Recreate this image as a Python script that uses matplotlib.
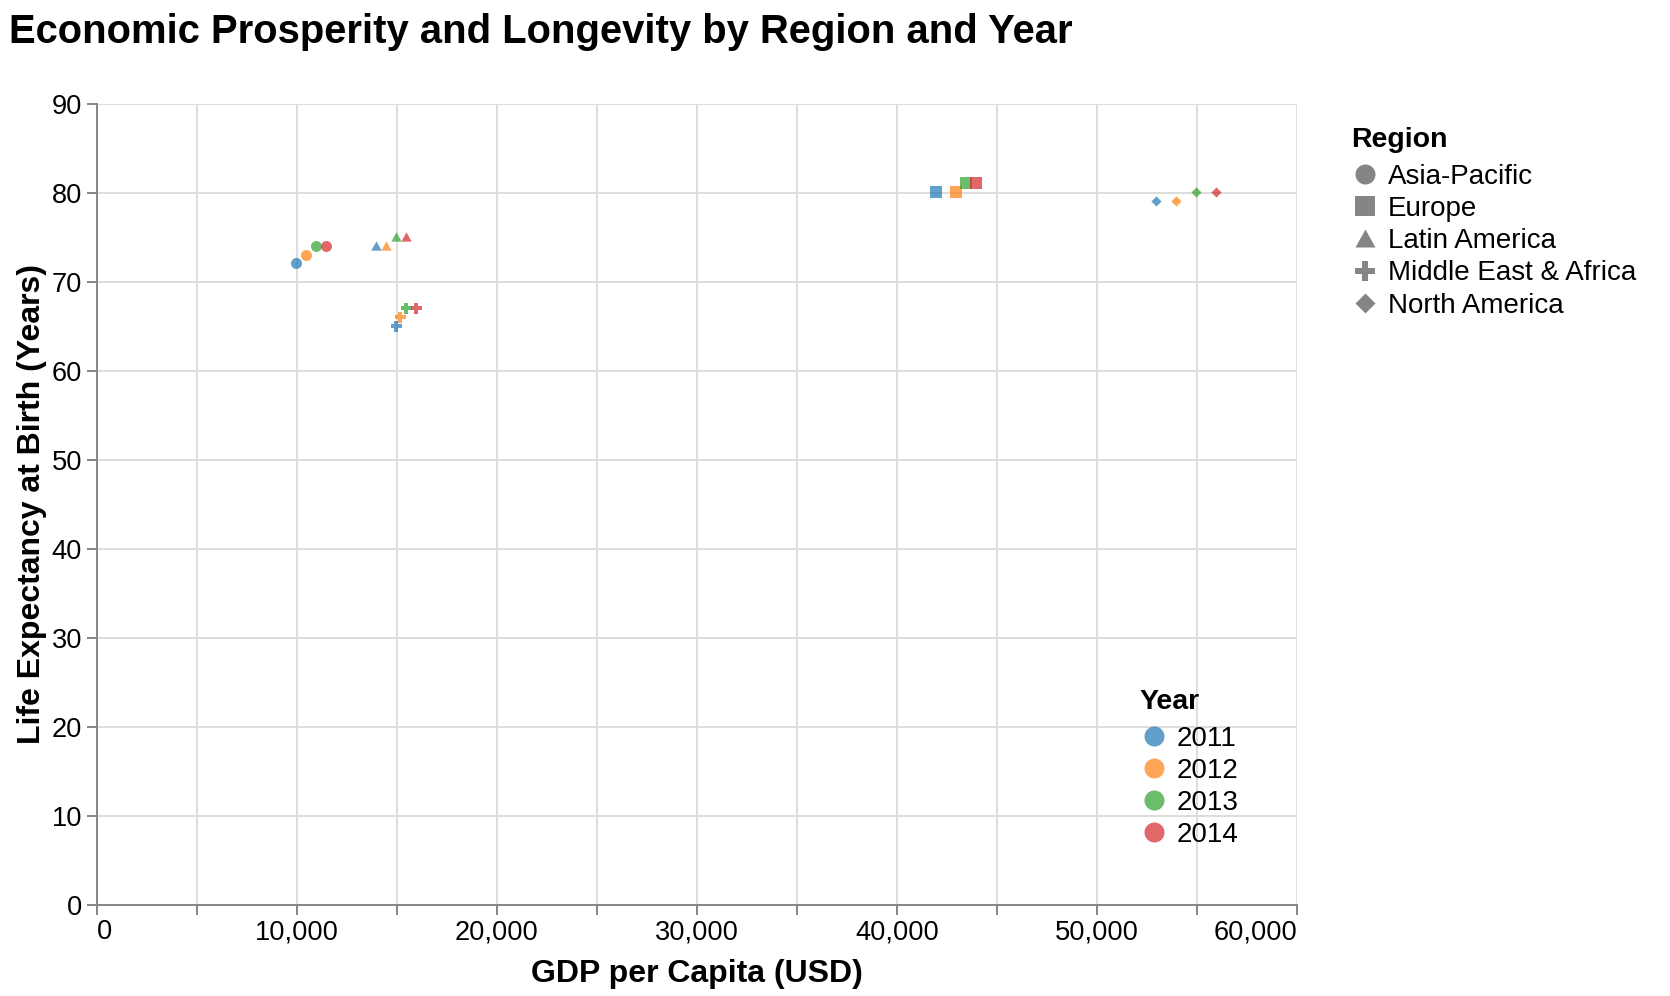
import matplotlib
matplotlib.use("Agg")
import matplotlib.pyplot as plt
from matplotlib.lines import Line2D
from matplotlib.path import Path
from matplotlib.transforms import offset_copy

plt.rcParams['font.family'] = ['Liberation Sans', 'DejaVu Sans']

W, H = 1670, 996
years = [2011, 2012, 2013, 2014]
regions = ["Asia-Pacific", "Europe", "Latin America", "Middle East & Africa", "North America"]
year_colors = ["#1f77b4", "#ff7f0e", "#2ca02c", "#d62728"]
gdp_asia = [10000, 10500, 11000, 11500]
life_asia = [72, 73, 74, 74]
gdp_europe = [42000, 43000, 43500, 44000]
life_europe = [80, 80, 81, 81]
gdp_latin = [14000, 14500, 15000, 15500]
life_latin = [74, 74, 75, 75]
gdp_mea = [15000, 15200, 15500, 16000]
life_mea = [65, 66, 67, 67]
gdp_north = [53000, 54000, 55000, 56000]
life_north = [79, 79, 80, 80]
gdp_all = [gdp_asia, gdp_europe, gdp_latin, gdp_mea, gdp_north]
life_all = [life_asia, life_europe, life_latin, life_mea, life_north]

a = 1 / 3
cross = Path([(-a, -1), (a, -1), (a, -a), (1, -a), (1, a), (a, a), (a, 1), (-a, 1), (-a, a),
              (-1, a), (-1, -a), (-a, -a), (-a, -1)], closed=True)
triangle = Path([(-1, -0.8), (1, -0.8), (0, 1), (-1, -0.8)], closed=True)
diamond = Path([(0, -1), (1, 0), (0, 1), (-1, 0), (0, -1)], closed=True)
shapes = ["o", "s", triangle, cross, diamond]
shape_px = [11.0, 11.4, 10.4, 11.0, 10.2]
legend_px = 20.0
px = 72 / 100

fig = plt.figure(figsize=(W / 100, H / 100), dpi=100)
L, R, T, B = 97, 1297, 104.5, 904.5
ax = fig.add_axes([L / W, 1 - B / H, (R - L) / W, (B - T) / H])

ax.set_xlim(0, 60000)
ax.set_ylim(0, 90)
mark_transform = offset_copy(ax.transData, fig=fig, x=-1, y=1, units="dots")
for yi in range(len(years)):
    for ri in range(len(regions)):
        ax.scatter(gdp_all[ri][yi], life_all[ri][yi], s=(shape_px[ri] * px) ** 2, marker=shapes[ri],
                   color=year_colors[yi], alpha=0.7, linewidths=0, zorder=3, clip_on=False,
                   transform=mark_transform)

ax.set_xlim(0, 60000)
ax.set_ylim(0, 90)
ax.set_xticks(range(0, 60001, 5000))
ax.set_xticklabels([f"{v:,}" if v % 10000 == 0 else "" for v in range(0, 60001, 5000)])
ax.set_yticks(range(0, 91, 10))
ax.grid(True, color="#dddddd", linewidth=2 * px, zorder=0)
ax.set_axisbelow(True)
for s in ["top", "right"]:
    ax.spines[s].set_visible(False)
for s in ["left", "bottom"]:
    ax.spines[s].set_color("#888888")
    ax.spines[s].set_linewidth(2 * px)
    ax.spines[s].set_zorder(2)
ax.tick_params(axis="both", length=10 * px, width=2 * px, color="#888888", labelsize=19.6, labelcolor="black")
ax.tick_params(axis="x", pad=3.5)
ax.tick_params(axis="y", pad=3.5)
xlabels = [t for t in ax.get_xticklabels()]
xlabels[0].set_ha("left")
xlabels[-1].set_ha("right")

ax.set_xlabel("GDP per Capita (USD)", fontsize=23, fontweight="bold")
ax.xaxis.set_label_coords(0.5, (B - 974) / (B - T), transform=ax.transAxes)
ax.xaxis.label.set_verticalalignment("center")
ax.set_ylabel("Life Expectancy at Birth (Years)", fontsize=23, fontweight="bold")
ax.yaxis.set_label_coords((32 - L) / (R - L), 0.5, transform=ax.transAxes)
ax.yaxis.label.set_verticalalignment("center")
fig.suptitle("Economic Prosperity and Longevity by Region and Year", x=9 / W, y=1 - 32 / H,
             ha="left", va="center", fontsize=28.8, fontweight="bold")

region_handles = [Line2D([], [], linestyle="none", marker=m, color="#7f7f7f", alpha=0.95,
                         markeredgewidth=0, markersize=legend_px * px, label=r)
                  for m, r in zip(shapes, regions)]
year_handles = [Line2D([], [], linestyle="none", marker="o", color=c, alpha=0.7, markeredgewidth=0,
                       markersize=legend_px * px, label=str(y))
                for c, y in zip(year_colors, years)]
opts = dict(frameon=False, fontsize=20, labelspacing=0.22, borderpad=0, borderaxespad=0,
            handlelength=1.02, handletextpad=0.32, alignment="left", loc="upper left",
            bbox_transform=fig.transFigure,
            title_fontproperties={"weight": "bold", "size": 20.5})
leg1 = ax.legend(handles=region_handles, title="Region", bbox_to_anchor=(1351 / W, 1 - 127 / H), **opts)
leg1._legend_box.sep = 8
ax.add_artist(leg1)
leg2 = ax.legend(handles=year_handles, title="Year", bbox_to_anchor=(1139.5 / W, 1 - 688.5 / H), **opts)
leg2._legend_box.sep = 8
leg2.set_zorder(5)

fig.savefig("out.png", dpi=100)
